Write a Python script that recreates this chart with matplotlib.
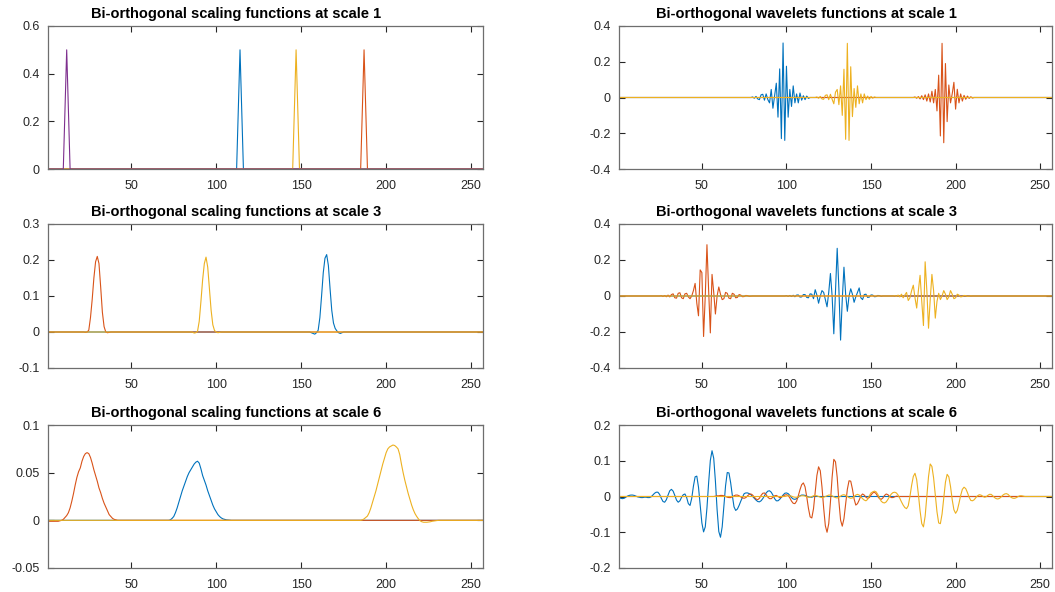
import numpy as np
import matplotlib
matplotlib.use("Agg")
import matplotlib.pyplot as plt

plt.rcParams['font.family'] = ['Liberation Sans', 'DejaVu Sans']
plt.rcParams['axes.unicode_minus'] = False

N = 257
x = np.arange(1, N + 1)

BLUE, RED, YELLOW, PURPLE = '#0072BD', '#D95319', '#EDB120', '#7E2F8E'

# --- scaling functions, scale 1 (start index, values) ---
sc1_blue = (113, [0.25, 0.5, 0.25])
sc1_red = (186, [0.25, 0.5, 0.25])
sc1_yellow = (146, [0.25, 0.5, 0.25])
sc1_purple = (11, [0.25, 0.5, 0.25])

# --- wavelets, scale 1 ---
wv1_blue = (80, [0.003, -0.004, 0.006, -0.008, -0.012, 0.015, 0.018, -0.015, 0.02, -0.012,
                 -0.03, 0.045, -0.06, 0.01, 0.08, -0.11, 0.16, -0.23, 0.305, -0.24,
                 0.175, -0.11, 0.045, -0.05, 0.065, -0.03, 0.02, -0.03, 0.025, -0.015,
                 0.01, -0.012, 0.008, -0.005])
wv1_red = (176, [0.003, -0.004, 0.005, -0.008, 0.01, -0.012, 0.015, -0.02, 0.02, -0.025,
                 0.035, -0.03, 0.045, -0.075, 0.125, -0.215, 0.303, -0.253, 0.19, -0.135,
                 0.07, -0.03, 0.02, 0.085, -0.065, 0.046, -0.03, 0.02, -0.02, 0.012,
                 -0.01, 0.008, -0.005, 0.004, -0.003])
wv1_yellow = (118, [0.003, -0.004, 0.006, -0.008, -0.01, 0.012, 0.015, -0.012, 0.018, -0.01,
                    -0.035, 0.03, 0.045, -0.04, 0.065, -0.1, 0.158, -0.234, 0.303, -0.24,
                    0.172, -0.107, 0.05, -0.055, 0.065, -0.035, 0.02, -0.03, 0.02, -0.012,
                    0.008, -0.01, 0.006, -0.004, 0.003])

# --- scaling functions, scale 3 ---
sc3_blue = (156, [-0.002, -0.004, -0.006, -0.002, 0.005, 0.04, 0.1, 0.165, 0.205, 0.215,
                  0.185, 0.12, 0.06, 0.025, 0.01, 0.003, -0.002, -0.004, -0.002])
sc3_red = (23, [-0.001, 0.0, 0.005, 0.04, 0.09, 0.15, 0.195, 0.21, 0.19, 0.125,
                0.055, 0.015, 0.0, -0.002, -0.001])
sc3_yellow = (87, [-0.003, -0.002, 0.002, 0.03, 0.085, 0.145, 0.19, 0.208, 0.18, 0.12,
                   0.06, 0.02, 0.004, 0.0, -0.002, -0.001])

# --- wavelets, scale 3 ---
wv3_blue = (100, [0.002, -0.002, 0.003, -0.003, 0.004, -0.004, 0.005, 0.006, -0.006, -0.005,
                  0.008, 0.008, -0.008, -0.01, 0.012, 0.01, -0.015, 0.035, 0.005, -0.04,
                  0.0, 0.03, 0.02, -0.02, -0.06, 0.02, 0.125, 0.0, -0.21, 0.02,
                  0.265, 0.04, -0.245, -0.02, 0.16, 0.01, -0.085, 0.0, 0.04, 0.01,
                  -0.035, -0.005, 0.02, 0.045, -0.01, -0.02, 0.008, 0.01, -0.008, -0.006,
                  0.006, 0.005, -0.004, -0.003, 0.003, 0.002, -0.002])
wv3_red = (26, [0.002, -0.003, 0.003, -0.004, 0.005, -0.005, 0.008, 0.012, -0.01, -0.012,
                0.015, 0.018, -0.01, -0.015, 0.012, 0.015, -0.005, -0.015, 0.0, 0.03,
                0.07, -0.04, -0.11, 0.145, 0.13, -0.225, 0.0, 0.285, 0.03, -0.205,
                0.12, 0.02, -0.1, 0.0, 0.05, 0.01, -0.02, -0.015, 0.02, 0.015,
                -0.012, -0.015, 0.015, 0.01, -0.01, -0.008, 0.008, 0.005, -0.004, -0.003,
                0.003, 0.002, -0.002, -0.001])
wv3_yellow = (164, [0.002, -0.002, 0.005, -0.005, 0.01, -0.01, 0.005, 0.02, -0.025, -0.01,
                    0.03, 0.06, -0.01, -0.067, 0.03, 0.115, -0.03, -0.164, 0.19, 0.03,
                    -0.179, -0.02, 0.12, 0.03, -0.123, -0.03, 0.015, -0.02, 0.0, 0.03,
                    0.01, -0.02, -0.005, 0.03, 0.01, -0.015, -0.01, 0.01, 0.005, -0.005,
                    -0.003, 0.003, 0.002, -0.002, -0.001, 0.001])

# --- scaling functions, scale 6 ---
sc6_blue = (72, [0.0, 0.0005, 0.002, 0.004, 0.008, 0.013, 0.019, 0.025, 0.031, 0.036,
                 0.041, 0.046, 0.05, 0.053, 0.056, 0.059, 0.061, 0.062, 0.06, 0.054,
                 0.047, 0.042, 0.037, 0.031, 0.026, 0.021, 0.016, 0.012, 0.009, 0.006,
                 0.004, 0.0025, 0.0015, 0.001, 0.0005, 0.0003])
sc6_red = (1, [-0.001, -0.001, -0.001, -0.001, -0.001, -0.001, -0.001, -0.0005, 0.0, 0.001,
               0.003, 0.005, 0.008, 0.013, 0.02, 0.028, 0.037, 0.045, 0.051, 0.055,
               0.062, 0.067, 0.07, 0.071, 0.07, 0.066, 0.06, 0.053, 0.047, 0.041,
               0.034, 0.029, 0.023, 0.018, 0.014, 0.01, 0.006, 0.004, 0.002, 0.001,
               0.0005])
sc6_yellow = (185, [0.0, 0.0005, 0.0015, 0.003, 0.0045, 0.008, 0.013, 0.019, 0.025, 0.031,
                    0.038, 0.045, 0.052, 0.059, 0.065, 0.071, 0.075, 0.077, 0.078, 0.079,
                    0.0785, 0.077, 0.075, 0.069, 0.059, 0.05, 0.042, 0.035, 0.028, 0.022,
                    0.016, 0.011, 0.007, 0.004, 0.0015, -0.0005, -0.0015, -0.002, -0.002, -0.002,
                    -0.0018, -0.0015, -0.001, -0.0007, -0.0004, -0.0002])

# --- wavelets, scale 6 ---
wv6_blue = (1, [-0.002, -0.005, -0.006, -0.005, -0.002, 0.001, 0.003, 0.004, 0.004, 0.003,
                0.001, -0.001, -0.002, -0.003, -0.003, -0.002, -0.002, -0.003, -0.003, -0.001,
                0.004, 0.009, 0.012, 0.012, 0.006, -0.005, -0.014, -0.016, -0.009, 0.004,
                0.016, 0.02, 0.015, 0.003, -0.01, -0.016, -0.012, -0.002, 0.005, 0.007,
                -0.003, -0.02, -0.025, -0.005, 0.029, 0.055, 0.057, 0.026, -0.025, -0.074,
                -0.099, -0.085, -0.032, 0.039, 0.101, 0.128, 0.107, 0.043, -0.037, -0.098,
                -0.114, -0.085, -0.028, 0.030, 0.067, 0.066, 0.039, 0.003, -0.029, -0.039,
                -0.035, -0.025, -0.013, -0.002, 0.008, 0.01, 0.01, 0.008, 0.005, 0.0,
                -0.005, -0.01, -0.014, -0.015, -0.012, -0.006, 0.002, 0.01, 0.015, 0.016,
                0.012, 0.004, -0.006, -0.012, -0.012, -0.008, -0.002, 0.004, 0.009, 0.01,
                0.008, 0.003, -0.003, -0.007, -0.008, -0.006, -0.002, 0.002, 0.004, 0.004,
                0.003, 0.001, -0.001, -0.002, -0.002])
wv6_red = (58, [0.001, 0.002, 0.002, 0.003, 0.003, 0.002, 0.0, -0.002, -0.003, -0.003,
                -0.001, 0.002, 0.004, 0.004, 0.002, -0.001, -0.004, -0.005, -0.003, 0.002,
                0.006, 0.007, 0.004, -0.002, -0.007, -0.009, -0.005, 0.003, 0.009, 0.01,
                0.005, -0.002, -0.006, -0.006, -0.002, 0.002, 0.003, 0.0, -0.003, -0.002,
                0.001, 0.004, 0.005, 0.003, -0.004, -0.013, -0.019, -0.02, -0.013, 0.002,
                0.019, 0.033, 0.038, 0.027, -0.001, -0.033, -0.057, -0.060, -0.034, 0.014,
                0.059, 0.083, 0.072, 0.027, -0.032, -0.082, -0.1, -0.076, -0.016, 0.054,
                0.104, 0.097, 0.054, -0.013, -0.066, -0.083, -0.062, -0.022, 0.020, 0.044,
                0.043, 0.021, -0.007, -0.024, -0.02, -0.01, 0.002, 0.007, 0.004, -0.002,
                -0.005, -0.003, 0.004, 0.01, 0.012, 0.008, 0.0, -0.006, -0.008, -0.004,
                0.003, 0.007, 0.005, 0.0, -0.003, -0.003, -0.001, 0.001])
wv6_yellow = (100, [0.001, 0.002, 0.002, 0.001, -0.001, -0.002, -0.002, -0.001, 0.001, 0.002,
                    0.002, 0.001, -0.001, -0.002, -0.002, 0.0, 0.002, 0.003, 0.002, 0.0,
                    -0.002, -0.003, -0.002, 0.0, 0.002, 0.004, 0.004, 0.002, -0.001, -0.003,
                    -0.004, -0.002, 0.001, 0.004, 0.005, 0.003, 0.0, -0.003, -0.005, -0.004,
                    0.0, 0.004, 0.006, 0.004, -0.001, -0.006, -0.01, -0.012, -0.008, 0.002,
                    0.01, 0.013, 0.015, 0.013, 0.006, -0.004, -0.013, -0.017, -0.018, -0.015,
                    -0.008, 0.0, 0.007, 0.011, 0.012, 0.01, 0.004, -0.005, -0.015, -0.024,
                    -0.031, -0.034, -0.026, 0.0, 0.031, 0.056, 0.065, 0.047, 0.006, -0.04,
                    -0.076, -0.085, -0.055, 0.0, 0.056, 0.091, 0.084, 0.052, 0.003, -0.043,
                    -0.074, -0.076, -0.049, -0.004, 0.040, 0.062, 0.055, 0.028, -0.009, -0.037,
                    -0.047, -0.039, -0.019, 0.003, 0.020, 0.026, 0.022, 0.011, -0.002, -0.011,
                    -0.012, -0.009, -0.003, 0.002, 0.005, 0.004, 0.001, -0.002, -0.001, 0.003,
                    0.006, 0.006, 0.002, -0.003, -0.006, -0.007, -0.005, -0.001, 0.004, 0.007,
                    0.008, 0.006, 0.001, -0.003, -0.005, -0.005, -0.003, 0.0, 0.002, 0.002,
                    0.001])

titles = ["Bi-orthogonal scaling functions at scale 1", "Bi-orthogonal wavelets functions at scale 1",
          "Bi-orthogonal scaling functions at scale 3", "Bi-orthogonal wavelets functions at scale 3",
          "Bi-orthogonal scaling functions at scale 6", "Bi-orthogonal wavelets functions at scale 6"]
x_ticks = [50, 100, 150, 200, 250]
y_ticks = [[0, 0.2, 0.4, 0.6], [-0.4, -0.2, 0, 0.2, 0.4],
           [-0.1, 0, 0.1, 0.2, 0.3], [-0.4, -0.2, 0, 0.2, 0.4],
           [-0.05, 0, 0.05, 0.1], [-0.2, -0.1, 0, 0.1, 0.2]]

panels = [
    [(sc1_blue, BLUE), (sc1_red, RED), (sc1_yellow, YELLOW), (sc1_purple, PURPLE)],
    [(wv1_blue, BLUE), (wv1_red, RED), (wv1_yellow, YELLOW)],
    [(sc3_blue, BLUE), (sc3_red, RED), (sc3_yellow, YELLOW)],
    [(wv3_blue, BLUE), (wv3_red, RED), (wv3_yellow, YELLOW)],
    [(sc6_blue, BLUE), (sc6_red, RED), (sc6_yellow, YELLOW)],
    [(wv6_blue, BLUE), (wv6_red, RED), (wv6_yellow, YELLOW)],
]


def full_signal(seg):
    start, vals = seg
    y = np.zeros(N)
    y[start - 1:start - 1 + len(vals)] = vals
    return y


# axes rectangles in figure fractions (left, bottom, width, height)
W, H = 1055, 592
lefts = [48, 619]
widths = [435, 433]
rows = [(26, 169), (224, 368), (425, 568)]

fig = plt.figure(figsize=(W / 100, H / 100), dpi=100)

for i in range(6):
    r, c = divmod(i, 2)
    top, bot = rows[r]
    ax = fig.add_axes([lefts[c] / W, 1 - bot / H, widths[c] / W, (bot - top) / H])
    for seg, col in panels[i]:
        ax.plot(x, full_signal(seg), color=col, lw=0.8)
    yt = y_ticks[i]
    ax.set_xlim(1, N)
    ax.set_ylim(yt[0], yt[-1])
    ax.set_xticks(x_ticks)
    ax.set_yticks(yt)
    ax.set_yticklabels([f"{v:g}" for v in yt])
    ax.tick_params(direction='in', length=4, width=0.8, top=True, right=True,
                   labelsize=9, colors='#262626', pad=6)
    ax.tick_params(axis='x', pad=8)
    for s in ax.spines.values():
        s.set_color('#6e6e6e')
        s.set_linewidth(0.9)
    ax.annotate(titles[i], xy=(0.433, 1), xycoords='axes fraction',
                xytext=(0, 6), textcoords='offset points', ha='center', va='baseline',
                fontsize=10.5, fontweight='bold', color='black')

fig.savefig("out.png", dpi=100)
